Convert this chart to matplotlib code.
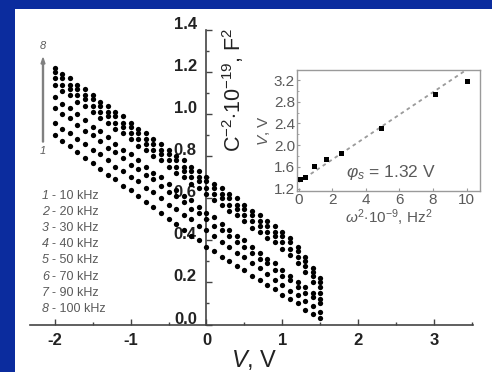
import numpy as np
import matplotlib
matplotlib.use("Agg")
import matplotlib.pyplot as plt
from matplotlib.patches import Rectangle, FancyArrow
from matplotlib.ticker import MultipleLocator
from matplotlib.transforms import ScaledTranslation

plt.rcParams["font.family"] = ["Liberation Sans", "DejaVu Sans"]
plt.rcParams["mathtext.fontset"] = "custom"
plt.rcParams["mathtext.rm"] = "Liberation Sans"
plt.rcParams["mathtext.it"] = "Liberation Sans:italic"

# bias voltage, V (same grid for every frequency)
bias = np.round(np.arange(-2.0, 1.55, 0.1), 2)

# C^-2 curves, numbered 1..8 as in the legend
c_1 = [0.90, 0.87, 0.85, 0.82, 0.79, 0.77, 0.74, 0.71, 0.69, 0.66, 0.64, 0.61,
       0.58, 0.56, 0.53, 0.50, 0.48, 0.45, 0.42, 0.40, 0.37, 0.35, 0.32, 0.30,
       0.28, 0.26, 0.23, 0.21, 0.19, 0.17, 0.14, 0.12, 0.10, 0.07, 0.05, 0.03]
c_2 = [0.96, 0.93, 0.91, 0.88, 0.86, 0.83, 0.81, 0.78, 0.75, 0.73, 0.70, 0.68,
       0.65, 0.63, 0.60, 0.57, 0.55, 0.52, 0.50, 0.47, 0.45, 0.42, 0.39, 0.37,
       0.34, 0.32, 0.29, 0.27, 0.24, 0.21, 0.19, 0.16, 0.14, 0.11, 0.09, 0.06]
c_3 = [1.03, 1.00, 0.98, 0.95, 0.92, 0.90, 0.87, 0.84, 0.82, 0.79, 0.76, 0.74,
       0.71, 0.69, 0.66, 0.63, 0.61, 0.58, 0.55, 0.53, 0.50, 0.47, 0.45, 0.42,
       0.39, 0.37, 0.34, 0.31, 0.29, 0.26, 0.23, 0.21, 0.18, 0.15, 0.13, 0.10]
c_4 = [1.08, 1.05, 1.03, 1.00, 0.97, 0.94, 0.92, 0.89, 0.86, 0.83, 0.81, 0.78,
       0.75, 0.72, 0.70, 0.67, 0.64, 0.61, 0.59, 0.56, 0.53, 0.51, 0.48, 0.45,
       0.42, 0.40, 0.37, 0.34, 0.31, 0.29, 0.26, 0.23, 0.20, 0.18, 0.15, 0.12]
c_5 = [1.14, 1.11, 1.09, 1.06, 1.04, 1.01, 0.98, 0.96, 0.93, 0.91, 0.88, 0.85,
       0.83, 0.80, 0.78, 0.75, 0.72, 0.70, 0.67, 0.65, 0.62, 0.59, 0.57, 0.54,
       0.52, 0.49, 0.46, 0.44, 0.41, 0.39, 0.36, 0.33, 0.29, 0.25, 0.20, 0.15]
c_6 = [1.17, 1.14, 1.12, 1.09, 1.07, 1.04, 1.01, 0.99, 0.96, 0.94, 0.91, 0.88,
       0.86, 0.83, 0.81, 0.78, 0.75, 0.73, 0.70, 0.68, 0.65, 0.62, 0.60, 0.57,
       0.55, 0.52, 0.49, 0.47, 0.44, 0.42, 0.39, 0.36, 0.32, 0.28, 0.23, 0.18]
c_7 = [1.20, 1.17, 1.14, 1.12, 1.09, 1.07, 1.04, 1.01, 0.99, 0.96, 0.94, 0.91,
       0.88, 0.86, 0.83, 0.81, 0.78, 0.75, 0.73, 0.70, 0.68, 0.65, 0.62, 0.60,
       0.57, 0.55, 0.52, 0.49, 0.47, 0.44, 0.42, 0.39, 0.35, 0.30, 0.25, 0.20]
c_8 = [1.22, 1.19, 1.17, 1.14, 1.12, 1.09, 1.06, 1.04, 1.01, 0.99, 0.96, 0.93,
       0.91, 0.88, 0.86, 0.83, 0.80, 0.78, 0.75, 0.73, 0.70, 0.67, 0.65, 0.62,
       0.60, 0.57, 0.54, 0.52, 0.49, 0.47, 0.44, 0.41, 0.37, 0.32, 0.27, 0.22]
curves = [c_1, c_2, c_3, c_4, c_5, c_6, c_7, c_8]

freq_labels = ["10 kHz", "20 kHz", "30 kHz", "40 kHz",
               "50 kHz", "70 kHz", "90 kHz", "100 kHz"]

# inset: cutoff voltage vs omega^2
omega2 = [0.1, 0.4, 0.9, 1.6, 2.5, 4.9, 8.1, 10.0]
v_cut = [1.38, 1.42, 1.61, 1.75, 1.86, 2.31, 2.95, 3.19]
phi_s = 1.32
fit_slope = 0.207

BLUE = "#0b2c9e"
GREY = "#5a5a5a"

fig = plt.figure(figsize=(4.92, 3.72), dpi=100)
fig.patch.set_facecolor(BLUE)
fig.patches.append(Rectangle((15 / 492, 0), 1, 1 - 9 / 372, transform=fig.transFigure,
                             facecolor="white", edgecolor="none", zorder=-5))

# main C^-2(V) plot
ax = fig.add_axes([30 / 492, 1 - 324.5 / 372, 443 / 492, 294.5 / 372])
ax.set_facecolor("none")
for vals in curves:
    ax.plot(bias, vals, "o", color="black", ms=3.8, mew=0, zorder=3, clip_on=False)

ax.set_xlim(-2.325, 3.511)
ax.set_ylim(0, 1.4)
for side in ("top", "right"):
    ax.spines[side].set_visible(False)
ax.spines["left"].set_position(("data", 0))
for side in ("left", "bottom"):
    ax.spines[side].set_color("#444444")
    ax.spines[side].set_linewidth(1.2)

ax.xaxis.set_minor_locator(MultipleLocator(0.5))
ax.yaxis.set_minor_locator(MultipleLocator(0.1))
ax.tick_params(which="both", direction="in", color="#444444", width=1)
ax.tick_params(which="major", length=4)
ax.tick_params(which="minor", length=2.5)
ax.tick_params(axis="x", pad=6, labelsize=12)
ax.tick_params(axis="y", pad=7, labelsize=12)
yt = [0.0, 0.2, 0.4, 0.6, 0.8, 1.0, 1.2, 1.4]
ax.set_yticks(yt)
ax.set_yticklabels([f"{t:.1f}" for t in yt])
ax.set_xticks([-2, -1, 0, 1, 2, 3])
ax.set_xticklabels(["-2", "-1", "0", "1", "2", "3"])
for lab in ax.get_xticklabels() + ax.get_yticklabels():
    lab.set_fontweight("bold")
    lab.set_color("#222222")
shift = ScaledTranslation(0, 5 / 72, fig.dpi_scale_trans)
for lab in ax.get_yticklabels():
    lab.set_transform(lab.get_transform() + shift)

fig.text(254 / 492, 1 - 360 / 372, r"$\it{V}$, V", fontsize=17,
         ha="center", va="center", color="#222222")
fig.text(233 / 492, 1 - 90 / 372, r"C$^{-2}$$\cdot$10$^{-19}$, F$^{2}$", fontsize=15.5,
         rotation=90, ha="center", va="center", color="#222222")

# frequency arrow and legend text
fig.patches.append(FancyArrow(
    43 / 492, 1 - 142 / 372, 0, 84 / 372, width=0.002, head_width=0.008,
    head_length=0.016, length_includes_head=True, color="#808080",
    transform=fig.transFigure, zorder=1))
fig.text(43 / 492, 1 - 46 / 372, "8", fontsize=8, style="italic", color=GREY,
         ha="center", va="center")
fig.text(43 / 492, 1 - 151 / 372, "1", fontsize=8, style="italic", color=GREY,
         ha="center", va="center")
for i, lab in enumerate(freq_labels):
    y = 1 - (196 + i * 16.1) / 372
    fig.text(42 / 492, y, f"{i + 1}", fontsize=9, style="italic", color=GREY,
             ha="left", va="center")
    fig.text(52 / 492, y, f"- {lab}", fontsize=9, color=GREY, ha="left", va="center")

# inset: cutoff voltage vs omega^2
ins = fig.add_axes([297 / 492, 1 - 191 / 372, 183 / 492, 121 / 372])
ins.set_xlim(-0.1, 10.8)
ins.set_ylim(1.154, 3.385)
fit_x = np.array([0.0, 11.0])
ins.plot(fit_x, phi_s + fit_slope * fit_x, color="#9a9a9a", lw=1.3,
         ls=(0, (2, 2)), zorder=2)
ins.plot(omega2, v_cut, "s", color="black", ms=3.6, mew=0, zorder=3)
for sp in ins.spines.values():
    sp.set_color("#9a9a9a")
    sp.set_linewidth(1)
ins.set_xticks([0, 2, 4, 6, 8, 10])
ins.set_yticks([1.2, 1.6, 2.0, 2.4, 2.8, 3.2])
ins.set_yticklabels(["1.2", "1.6", "2.0", "2.4", "2.8", "3.2"])
ins.yaxis.set_minor_locator(MultipleLocator(0.2))
ins.tick_params(which="both", direction="in", color="#9a9a9a", labelcolor=GREY,
                labelsize=11, pad=1.5, length=2.5)
ins.tick_params(which="minor", length=1.5)
ins.set_xlabel(r"$\omega^{2}$$\cdot$10$^{-9}$, Hz$^{2}$", fontsize=11, color=GREY,
               labelpad=0)
ins.set_ylabel(r"$\it{V}$, V", fontsize=11, color=GREY, labelpad=1)
ins.text(5.5, 1.50, r"$\varphi_{s}$ = 1.32 V", fontsize=12.5, color=GREY,
         ha="center", va="center")

fig.savefig("out.png", dpi=100, facecolor=fig.get_facecolor())
